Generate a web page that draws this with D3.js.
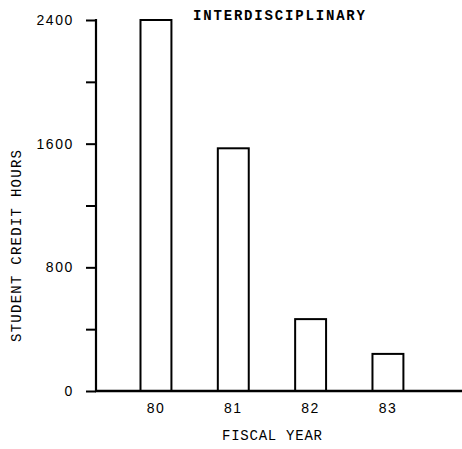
<!DOCTYPE html>
<html>
<head>
<meta charset="utf-8">
<script src="https://cdn.jsdelivr.net/npm/d3@7"></script>
<style>
  html, body { margin: 0; padding: 0; background: #fff; }
  svg { display: block; }
</style>
</head>
<body>
<svg id="chart" width="462" height="449"></svg>
<script>
const categories = ["80", "81", "82", "83"];
const hours = [2400, 1570, 465, 240];
const tickValues = [0, 400, 800, 1200, 1600, 2000, 2400];
const labeledTicks = [0, 800, 1600, 2400];
const title = "INTERDISCIPLINARY";
const xTitle = "FISCAL YEAR";
const yTitle = "STUDENT CREDIT HOURS";

const svg = d3.select("#chart");
const x0 = 96, xEnd = 462, yBase = 391, yTop = 20;

const x = d3.scaleBand().domain(categories).range([117.3, 426.6])
  .paddingInner(0.6).paddingOuter(0.3);
const y = d3.scaleLinear().domain([0, 2400]).range([yBase, yTop]);

// bars
svg.append("g").selectAll("rect").data(categories).join("rect")
  .attr("x", d => x(d))
  .attr("y", (d, i) => y(hours[i]))
  .attr("width", x.bandwidth())
  .attr("height", (d, i) => yBase - y(hours[i]))
  .attr("fill", "#fff")
  .attr("stroke", "#000")
  .attr("stroke-width", 2);

// y axis
const yAxis = d3.axisLeft(y).tickValues(tickValues).tickSize(10)
  .tickFormat(d => labeledTicks.includes(d) ? d : "");
const yg = svg.append("g").attr("transform", `translate(${x0},0)`).call(yAxis);
yg.select(".domain").remove();
yg.selectAll(".tick line").attr("stroke", "#000").attr("stroke-width", 2);
yg.selectAll(".tick text")
  .attr("x", -22)
  .attr("font-family", "Liberation Sans, Arial, sans-serif")
  .attr("font-size", 14)
  .attr("letter-spacing", 1.6)
  .attr("fill", "#000");
svg.append("line").attr("x1", x0).attr("x2", x0)
  .attr("y1", y(2400) - 1).attr("y2", yBase + 1)
  .attr("stroke", "#000").attr("stroke-width", 2.2);

// x axis
const xAxis = d3.axisBottom(x).tickSize(0).tickPadding(12);
const xg = svg.append("g").attr("transform", `translate(0,${yBase})`).call(xAxis);
xg.select(".domain").remove();
xg.selectAll(".tick text")
  .attr("font-family", "Liberation Sans, Arial, sans-serif")
  .attr("font-size", 14)
  .attr("letter-spacing", 1.5)
  .attr("fill", "#000");
svg.append("line").attr("x1", x0 - 1).attr("x2", xEnd)
  .attr("y1", yBase).attr("y2", yBase)
  .attr("stroke", "#000").attr("stroke-width", 2.5);

// titles
svg.append("text").text(title)
  .attr("x", 193).attr("y", 20)
  .attr("font-family", "Liberation Mono, Courier New, monospace")
  .attr("font-weight", "bold")
  .attr("font-size", 14)
  .attr("textLength", 172).attr("lengthAdjust", "spacing")
  .attr("fill", "#000");

svg.append("text").text(xTitle)
  .attr("x", 222).attr("y", 440)
  .attr("font-family", "Liberation Mono, Courier New, monospace")
  .attr("font-size", 14)
  .attr("textLength", 100).attr("lengthAdjust", "spacing")
  .attr("fill", "#000");

svg.append("text").text(yTitle)
  .attr("transform", "translate(21,342) rotate(-90)")
  .attr("font-family", "Liberation Mono, Courier New, monospace")
  .attr("font-size", 14)
  .attr("textLength", 192).attr("lengthAdjust", "spacing")
  .attr("fill", "#000");
</script>
</body>
</html>
